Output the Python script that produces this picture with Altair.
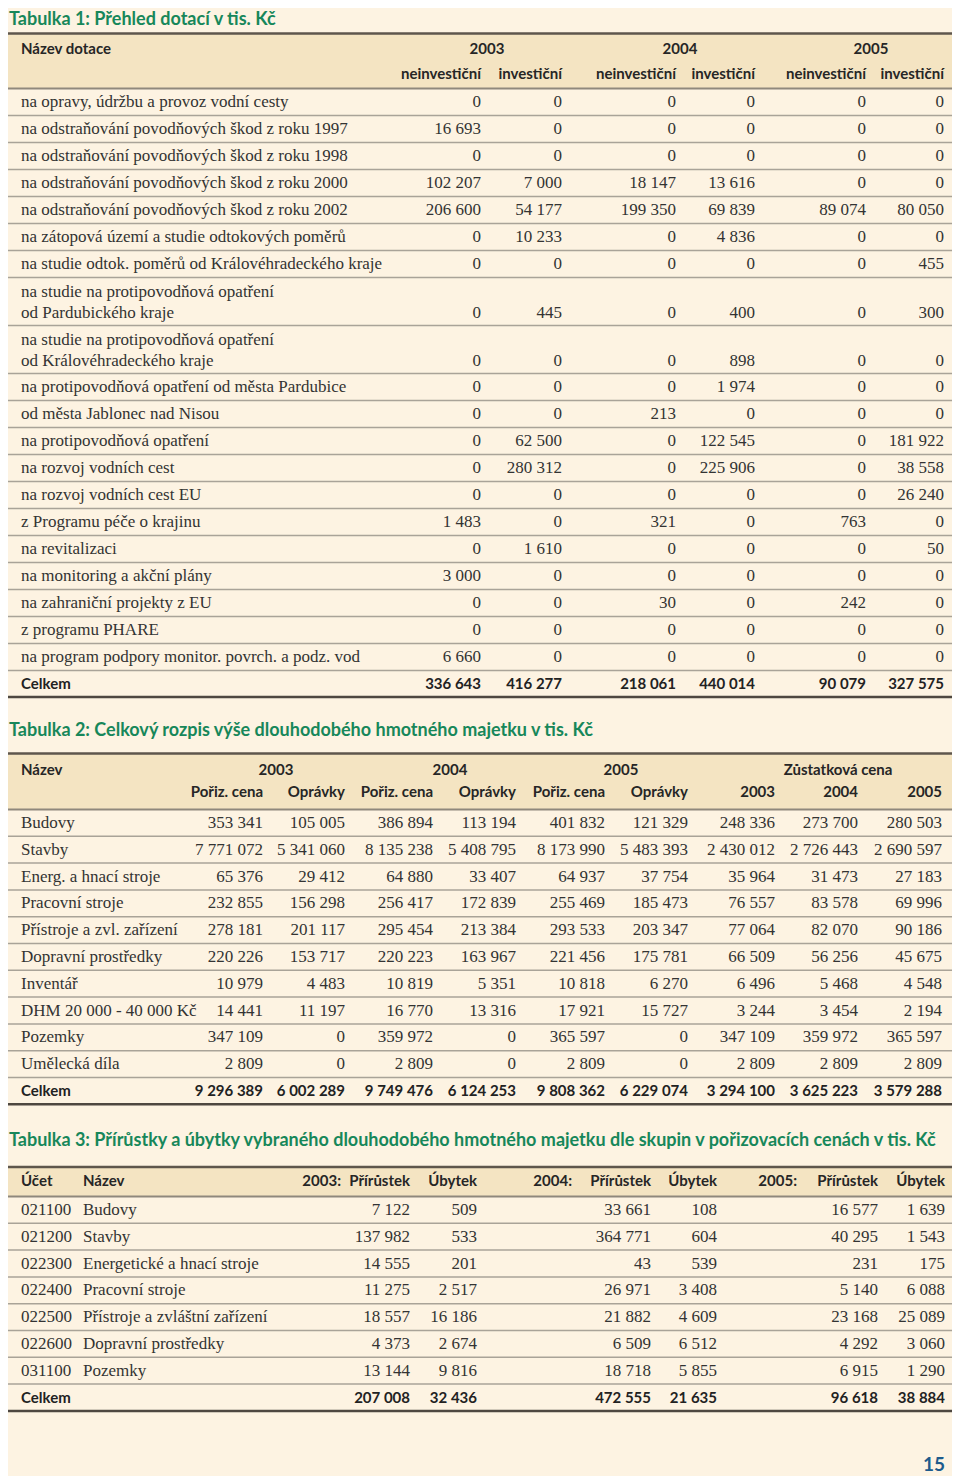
import altair as alt
import pandas as pd

# ---------------- DATA ----------------
# Tabulka 1
t1_title = "Tabulka 1: Přehled dotací v tis. Kč"
t1_head_name = "Název dotace"
t1_years = ["2003", "2004", "2005"]
t1_kinds = ["neinvestiční", "investiční"]
t1_names = [
    ["na opravy, údržbu a provoz vodní cesty"],
    ["na odstraňování povodňových škod z roku 1997"],
    ["na odstraňování povodňových škod z roku 1998"],
    ["na odstraňování povodňových škod z roku 2000"],
    ["na odstraňování povodňových škod z roku 2002"],
    ["na zátopová území a studie odtokových poměrů"],
    ["na studie odtok. poměrů od Královéhradeckého kraje"],
    ["na studie na protipovodňová opatření", "od Pardubického kraje"],
    ["na studie na protipovodňová opatření", "od Královéhradeckého kraje"],
    ["na protipovodňová opatření od města Pardubice"],
    ["od města Jablonec nad Nisou"],
    ["na protipovodňová opatření"],
    ["na rozvoj vodních cest"],
    ["na rozvoj vodních cest EU"],
    ["z Programu péče o krajinu"],
    ["na revitalizaci"],
    ["na monitoring a akční plány"],
    ["na zahraniční projekty z EU"],
    ["z programu PHARE"],
    ["na program podpory monitor. povrch. a podz. vod"],
]
t1_2003_neinv = [0, 16693, 0, 102207, 206600, 0, 0, 0, 0, 0, 0, 0, 0, 0, 1483, 0, 3000, 0, 0, 6660]
t1_2003_inv = [0, 0, 0, 7000, 54177, 10233, 0, 445, 0, 0, 0, 62500, 280312, 0, 0, 1610, 0, 0, 0, 0]
t1_2004_neinv = [0, 0, 0, 18147, 199350, 0, 0, 0, 0, 0, 213, 0, 0, 0, 321, 0, 0, 30, 0, 0]
t1_2004_inv = [0, 0, 0, 13616, 69839, 4836, 0, 400, 898, 1974, 0, 122545, 225906, 0, 0, 0, 0, 0, 0, 0]
t1_2005_neinv = [0, 0, 0, 0, 89074, 0, 0, 0, 0, 0, 0, 0, 0, 0, 763, 0, 0, 242, 0, 0]
t1_2005_inv = [0, 0, 0, 0, 80050, 0, 455, 300, 0, 0, 0, 181922, 38558, 26240, 0, 50, 0, 0, 0, 0]
t1_total_label = "Celkem"
t1_total = [336643, 416277, 218061, 440014, 90079, 327575]

# Tabulka 2
t2_title = "Tabulka 2: Celkový rozpis výše dlouhodobého hmotného majetku v tis. Kč"
t2_head_name = "Název"
t2_groups = ["2003", "2004", "2005", "Zůstatková cena"]
t2_sub = ["Pořiz. cena", "Oprávky", "Pořiz. cena", "Oprávky", "Pořiz. cena", "Oprávky", "2003", "2004", "2005"]
t2_names = ["Budovy", "Stavby", "Energ. a hnací stroje", "Pracovní stroje", "Přístroje a zvl. zařízení",
            "Dopravní prostředky", "Inventář", "DHM 20 000 - 40 000 Kč", "Pozemky", "Umělecká díla"]
t2_2003_cena = [353341, 7771072, 65376, 232855, 278181, 220226, 10979, 14441, 347109, 2809]
t2_2003_opr = [105005, 5341060, 29412, 156298, 201117, 153717, 4483, 11197, 0, 0]
t2_2004_cena = [386894, 8135238, 64880, 256417, 295454, 220223, 10819, 16770, 359972, 2809]
t2_2004_opr = [113194, 5408795, 33407, 172839, 213384, 163967, 5351, 13316, 0, 0]
t2_2005_cena = [401832, 8173990, 64937, 255469, 293533, 221456, 10818, 17921, 365597, 2809]
t2_2005_opr = [121329, 5483393, 37754, 185473, 203347, 175781, 6270, 15727, 0, 0]
t2_zust_2003 = [248336, 2430012, 35964, 76557, 77064, 66509, 6496, 3244, 347109, 2809]
t2_zust_2004 = [273700, 2726443, 31473, 83578, 82070, 56256, 5468, 3454, 359972, 2809]
t2_zust_2005 = [280503, 2690597, 27183, 69996, 90186, 45675, 4548, 2194, 365597, 2809]
t2_total_label = "Celkem"
t2_total = [9296389, 6002289, 9749476, 6124253, 9808362, 6229074, 3294100, 3625223, 3579288]

# Tabulka 3
t3_title = ("Tabulka 3: Přírůstky a úbytky vybraného dlouhodobého hmotného majetku "
            "dle skupin v pořizovacích cenách v tis. Kč")
t3_head_acc = "Účet"
t3_head_name = "Název"
t3_years = ["2003:", "2004:", "2005:"]
t3_kinds = ["Přírůstek", "Úbytek"]
t3_accounts = ["021100", "021200", "022300", "022400", "022500", "022600", "031100"]
t3_names = ["Budovy", "Stavby", "Energetické a hnací stroje", "Pracovní stroje",
            "Přístroje a zvláštní zařízení", "Dopravní prostředky", "Pozemky"]
t3_2003_prir = [7122, 137982, 14555, 11275, 18557, 4373, 13144]
t3_2003_ubyt = [509, 533, 201, 2517, 16186, 2674, 9816]
t3_2004_prir = [33661, 364771, 43, 26971, 21882, 6509, 18718]
t3_2004_ubyt = [108, 604, 539, 3408, 4609, 6512, 5855]
t3_2005_prir = [16577, 40295, 231, 5140, 23168, 4292, 6915]
t3_2005_ubyt = [1639, 1543, 175, 6088, 25089, 3060, 1290]
t3_total_label = "Celkem"
t3_total = [207008, 32436, 472555, 21635, 96618, 38884]

page_number = "15"

# ---------------- LAYOUT ----------------
W, H = 944, 1468            # plot area (page coords 8..952, 8..1476)
L, R = 3, 957               # table rule extent
LX = 21                     # label column
TX = 9                      # title x
BG = "#FDF3E2"
BAND = "#F4E4C2"
GREEN = "#17875A"
BLUE = "#1D5B8C"
SANS = "Lato, Noto Sans, DejaVu Sans Condensed, sans-serif"
SERIF = "Liberation Serif, Times New Roman, serif"


def fmt(v):
    return f"{v:,}".replace(",", " ")


texts, rules, bands = [], [], []


def T(kind, x, y, s):
    texts.append(dict(x=x, y=y, text=s, kind=kind))


def RL(kind, y, x0=L, x1=R):
    rules.append(dict(x=x0, x2=x1, y=y, kind=kind))


def BD(y0, y1):
    bands.append(dict(x=L, x2=R, y=y0, y2=y1))


# ---- table 1 ----
T("title", TX, 19.5, t1_title)
top, hb = 33.5, 88.5
BD(top, hb)
RL("top", top)
RL("head", hb)
T("head_l", LX, 49, t1_head_name)
t1_cols = [481, 562, 676, 755, 866, 944]
for x, s in zip([487, 680, 871], t1_years):
    T("head_c", x, 49, s)
for i, x in enumerate(t1_cols):
    T("head_r", x, 74, t1_kinds[i % 2])
t1_vals = [t1_2003_neinv, t1_2003_inv, t1_2004_neinv, t1_2004_inv, t1_2005_neinv, t1_2005_inv]
y = hb
for i, lines in enumerate(t1_names):
    h = 27 if len(lines) == 1 else 48
    if len(lines) == 1:
        ys = [y + 13.5]
    else:
        ys = [y + 14, y + 35]
    for yy, s in zip(ys, lines):
        T("body_l", LX, yy, s)
    for x, col in zip(t1_cols, t1_vals):
        T("body_r", x, ys[-1], fmt(col[i]))
    y += h
    RL("sep", y)
T("total_l", LX, y + 13.5, t1_total_label)
for x, v in zip(t1_cols, t1_total):
    T("total_r", x, y + 13.5, fmt(v))
RL("bottom", y + 26.5)

# ---- table 2 ----
T("title", TX, 731, t2_title)
top, hb = 753.5, 809.5
BD(top, hb)
RL("top", top)
RL("head", hb)
T("head_l", LX, 770, t2_head_name)
for x, s in zip([276, 450, 621, 838], t2_groups):
    T("head_c", x, 770, s)
t2_cols = [263, 345, 433, 516, 605, 688, 775, 858, 942]
for x, s in zip(t2_cols, t2_sub):
    T("head_r", x, 792, s)
t2_vals = [t2_2003_cena, t2_2003_opr, t2_2004_cena, t2_2004_opr, t2_2005_cena, t2_2005_opr,
           t2_zust_2003, t2_zust_2004, t2_zust_2005]
rh = 26.8
for i, name in enumerate(t2_names):
    yy = hb + rh * i + rh / 2
    T("body_l", LX, yy, name)
    for x, col in zip(t2_cols, t2_vals):
        T("body_r", x, yy, fmt(col[i]))
    RL("sep", hb + rh * (i + 1))
yy = hb + rh * len(t2_names) + rh / 2
T("total_l", LX, yy, t2_total_label)
for x, v in zip(t2_cols, t2_total):
    T("total_r", x, yy, fmt(v))
RL("bottom", hb + rh * (len(t2_names) + 1))

# ---- table 3 ----
T("title", TX, 1141, t3_title)
top, hb = 1167, 1196.5
BD(top, hb)
RL("top", top)
RL("head", hb)
T("head_l", LX, 1181, t3_head_acc)
T("head_l", 83, 1181, t3_head_name)
for x, s in zip([341, 572, 797], t3_years):
    T("head_r", x, 1181, s)
t3_cols = [410, 477, 651, 717, 878, 945]
for i, x in enumerate(t3_cols):
    T("head_r", x, 1181, t3_kinds[i % 2])
t3_vals = [t3_2003_prir, t3_2003_ubyt, t3_2004_prir, t3_2004_ubyt, t3_2005_prir, t3_2005_ubyt]
for i, (acc, name) in enumerate(zip(t3_accounts, t3_names)):
    yy = hb + rh * i + rh / 2
    T("body_l", LX, yy, acc)
    T("body_l", 83, yy, name)
    for x, col in zip(t3_cols, t3_vals):
        T("body_r", x, yy, fmt(col[i]))
    RL("sep", hb + rh * (i + 1))
yy = hb + rh * len(t3_names) + rh / 2
T("total_l", LX, yy, t3_total_label)
for x, v in zip(t3_cols, t3_total):
    T("total_r", x, yy, fmt(v))
RL("bottom", hb + rh * (len(t3_names) + 1))

T("page", 945, 1465, page_number)

# ---------------- CHART ----------------
tdf = pd.DataFrame(texts)
rdf = pd.DataFrame(rules)
bdf = pd.DataFrame(bands)

xs = alt.Scale(domain=[8, 8 + W], range=[0, W], nice=False, zero=False)
ys = alt.Scale(domain=[8, 8 + H], range=[0, H], nice=False, zero=False)

text_styles = {
    "title": dict(font=SANS, fontSize=18, fontWeight="bold", color=GREEN, align="left"),
    "head_l": dict(font=SANS, fontSize=15, fontWeight="bold", color="#262626", align="left"),
    "head_c": dict(font=SANS, fontSize=15, fontWeight="bold", color="#262626", align="center"),
    "head_r": dict(font=SANS, fontSize=15, fontWeight="bold", color="#262626", align="right"),
    "body_l": dict(font=SERIF, fontSize=17, color="#333333", align="left"),
    "body_r": dict(font=SERIF, fontSize=17, color="#333333", align="right"),
    "total_l": dict(font=SANS, fontSize=15, fontWeight="bold", color="#222222", align="left"),
    "total_r": dict(font=SANS, fontSize=15, fontWeight="bold", color="#222222", align="right"),
    "page": dict(font=SANS, fontSize=19, fontWeight="bold", color=BLUE, align="right"),
}
rule_styles = {
    "top": dict(color="#5E564C", strokeWidth=2.5),
    "head": dict(color="#8F887C", strokeWidth=2),
    "sep": dict(color="#A9A398", strokeWidth=1.5),
    "bottom": dict(color="#4E4740", strokeWidth=2.5),
}

layers = [
    alt.Chart(bdf).mark_rect(color=BAND).encode(
        x=alt.X("x:Q", scale=xs, axis=None), x2="x2:Q",
        y=alt.Y("y:Q", scale=ys, axis=None), y2="y2:Q")
]
for kind, st in rule_styles.items():
    layers.append(
        alt.Chart(rdf[rdf.kind == kind]).mark_rule(**st).encode(
            x=alt.X("x:Q", scale=xs, axis=None), x2="x2:Q",
            y=alt.Y("y:Q", scale=ys, axis=None)))
for kind, st in text_styles.items():
    layers.append(
        alt.Chart(tdf[tdf.kind == kind]).mark_text(baseline="middle", **st).encode(
            x=alt.X("x:Q", scale=xs, axis=None),
            y=alt.Y("y:Q", scale=ys, axis=None),
            text="text:N"))

chart = alt.layer(*layers).properties(
    width=W, height=H, padding=0, background=BG,
    autosize=alt.AutoSizeParams(type="none"),
).configure_view(stroke=None)

chart.save("out.html", embed_options={"renderer": "svg", "actions": False})
